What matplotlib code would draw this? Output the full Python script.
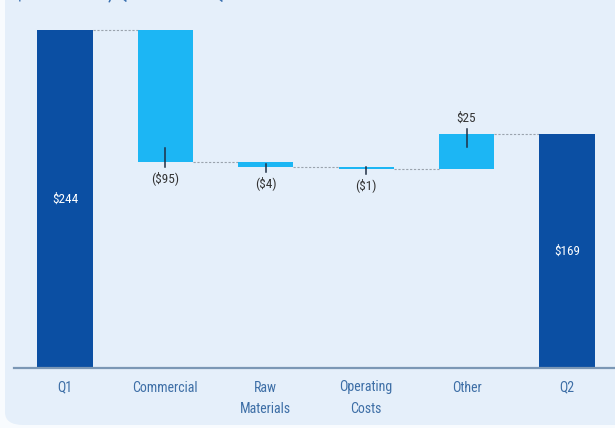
import matplotlib
matplotlib.use("Agg")
import matplotlib.pyplot as plt
from matplotlib.patches import FancyBboxPatch
from matplotlib import transforms

categories = ["Q1", "Commercial", "Raw\nMaterials", "Operating\nCosts", "Other", "Q2"]
values = [244, -95, -4, -1, 25, 169]
kinds = ["total", "delta", "delta", "delta", "delta", "total"]
labels = ["$244", "($95)", "($4)", "($1)", "$25", "$169"]
title = "$ in millions, Q1 2023 vs. Q2 2023"

DARK = "#0b4fa3"
LIGHT = "#1cb6f4"
BG = "#e5effa"
FONT = ["Liberation Sans Narrow", "Roboto Condensed", "Roboto", "DejaVu Sans"]

fig = plt.figure(figsize=(6.15, 4.28), dpi=100)
fig.patch.set_facecolor("#f8fbfe")
panel = FancyBboxPatch((5 / 615, 3 / 428), 1.2, 1.2, boxstyle="round,pad=0,rounding_size=0.03",
                       transform=fig.transFigure, facecolor=BG, edgecolor="none", zorder=-10)
fig.patches.append(panel)

ax = fig.add_axes([14 / 615, 60 / 428, 1 - 14 / 615, (368 - 20) / 428])
ax.set_zorder(1)
ax.set_facecolor("none")
ax.set_xlim(-0.508, 5.478)
ax.set_ylim(0, 251.3)

bw = 0.55
running = 0
levels = []
for i, (v, k) in enumerate(zip(values, kinds)):
    if k == "total":
        bottom, top = 0, v
        running = v
        color = DARK
    else:
        start = running
        running = running + v
        bottom, top = min(start, running), max(start, running)
        color = LIGHT
    ax.bar(i, top - bottom, bottom=bottom, width=bw, color=color, zorder=3)
    levels.append(running)

    if k == "total":
        ax.text(i, (top + bottom) / 2, labels[i], color="white", ha="center", va="center",
                fontsize=9.5, family=FONT, zorder=5)
    else:
        edge = running
        sign = 1 if v > 0 else -1
        h_px = abs(v) * 338 / 244
        inward = min(13.5, max(h_px * 0.5, 1.5))
        outward = 5.0
        t_in = transforms.offset_copy(ax.transData, fig=fig, x=0, y=-sign * inward, units="dots")
        t_out = transforms.offset_copy(ax.transData, fig=fig, x=0, y=sign * outward, units="dots")
        p1 = t_in.transform((i, edge))
        p2 = t_out.transform((i, edge))
        inv = ax.transData.inverted()
        d1 = inv.transform(p1)
        d2 = inv.transform(p2)
        ax.plot([i, i], [d1[1], d2[1]], color="#1f2f44", lw=1.1, zorder=4)
        t_lab = transforms.offset_copy(ax.transData, fig=fig, x=0, y=sign * 16, units="dots")
        ax.text(i, edge, labels[i], color="#333333", ha="center", va="center",
                fontsize=9.5, family=FONT, transform=t_lab, zorder=5)

# connectors
for i in range(len(values) - 1):
    lvl = levels[i]
    ax.plot([i + bw / 2, i + 1 - bw / 2], [lvl, lvl], color="#9aa3ad", lw=0.8,
            ls=(0, (2, 1.5)), zorder=2)

ax.set_xticks(range(len(categories)))
ax.set_xticklabels(categories, fontsize=10, family=FONT, color="#3d6ea6", linespacing=1.7)
ax.tick_params(axis="x", length=0, pad=9)
ax.set_yticks([])
for s in ["top", "right", "left"]:
    ax.spines[s].set_visible(False)
ax.spines["bottom"].set_color("#7b97b5")
ax.spines["bottom"].set_linewidth(1.6)
ax.spines["bottom"].set_zorder(6)

fig.text(15 / 615, 1 - 0.3 / 428, title, color="#3a70b0", fontsize=14, family=FONT,
         ha="left", va="baseline")

fig.savefig("out.png", dpi=100, facecolor=fig.get_facecolor())
